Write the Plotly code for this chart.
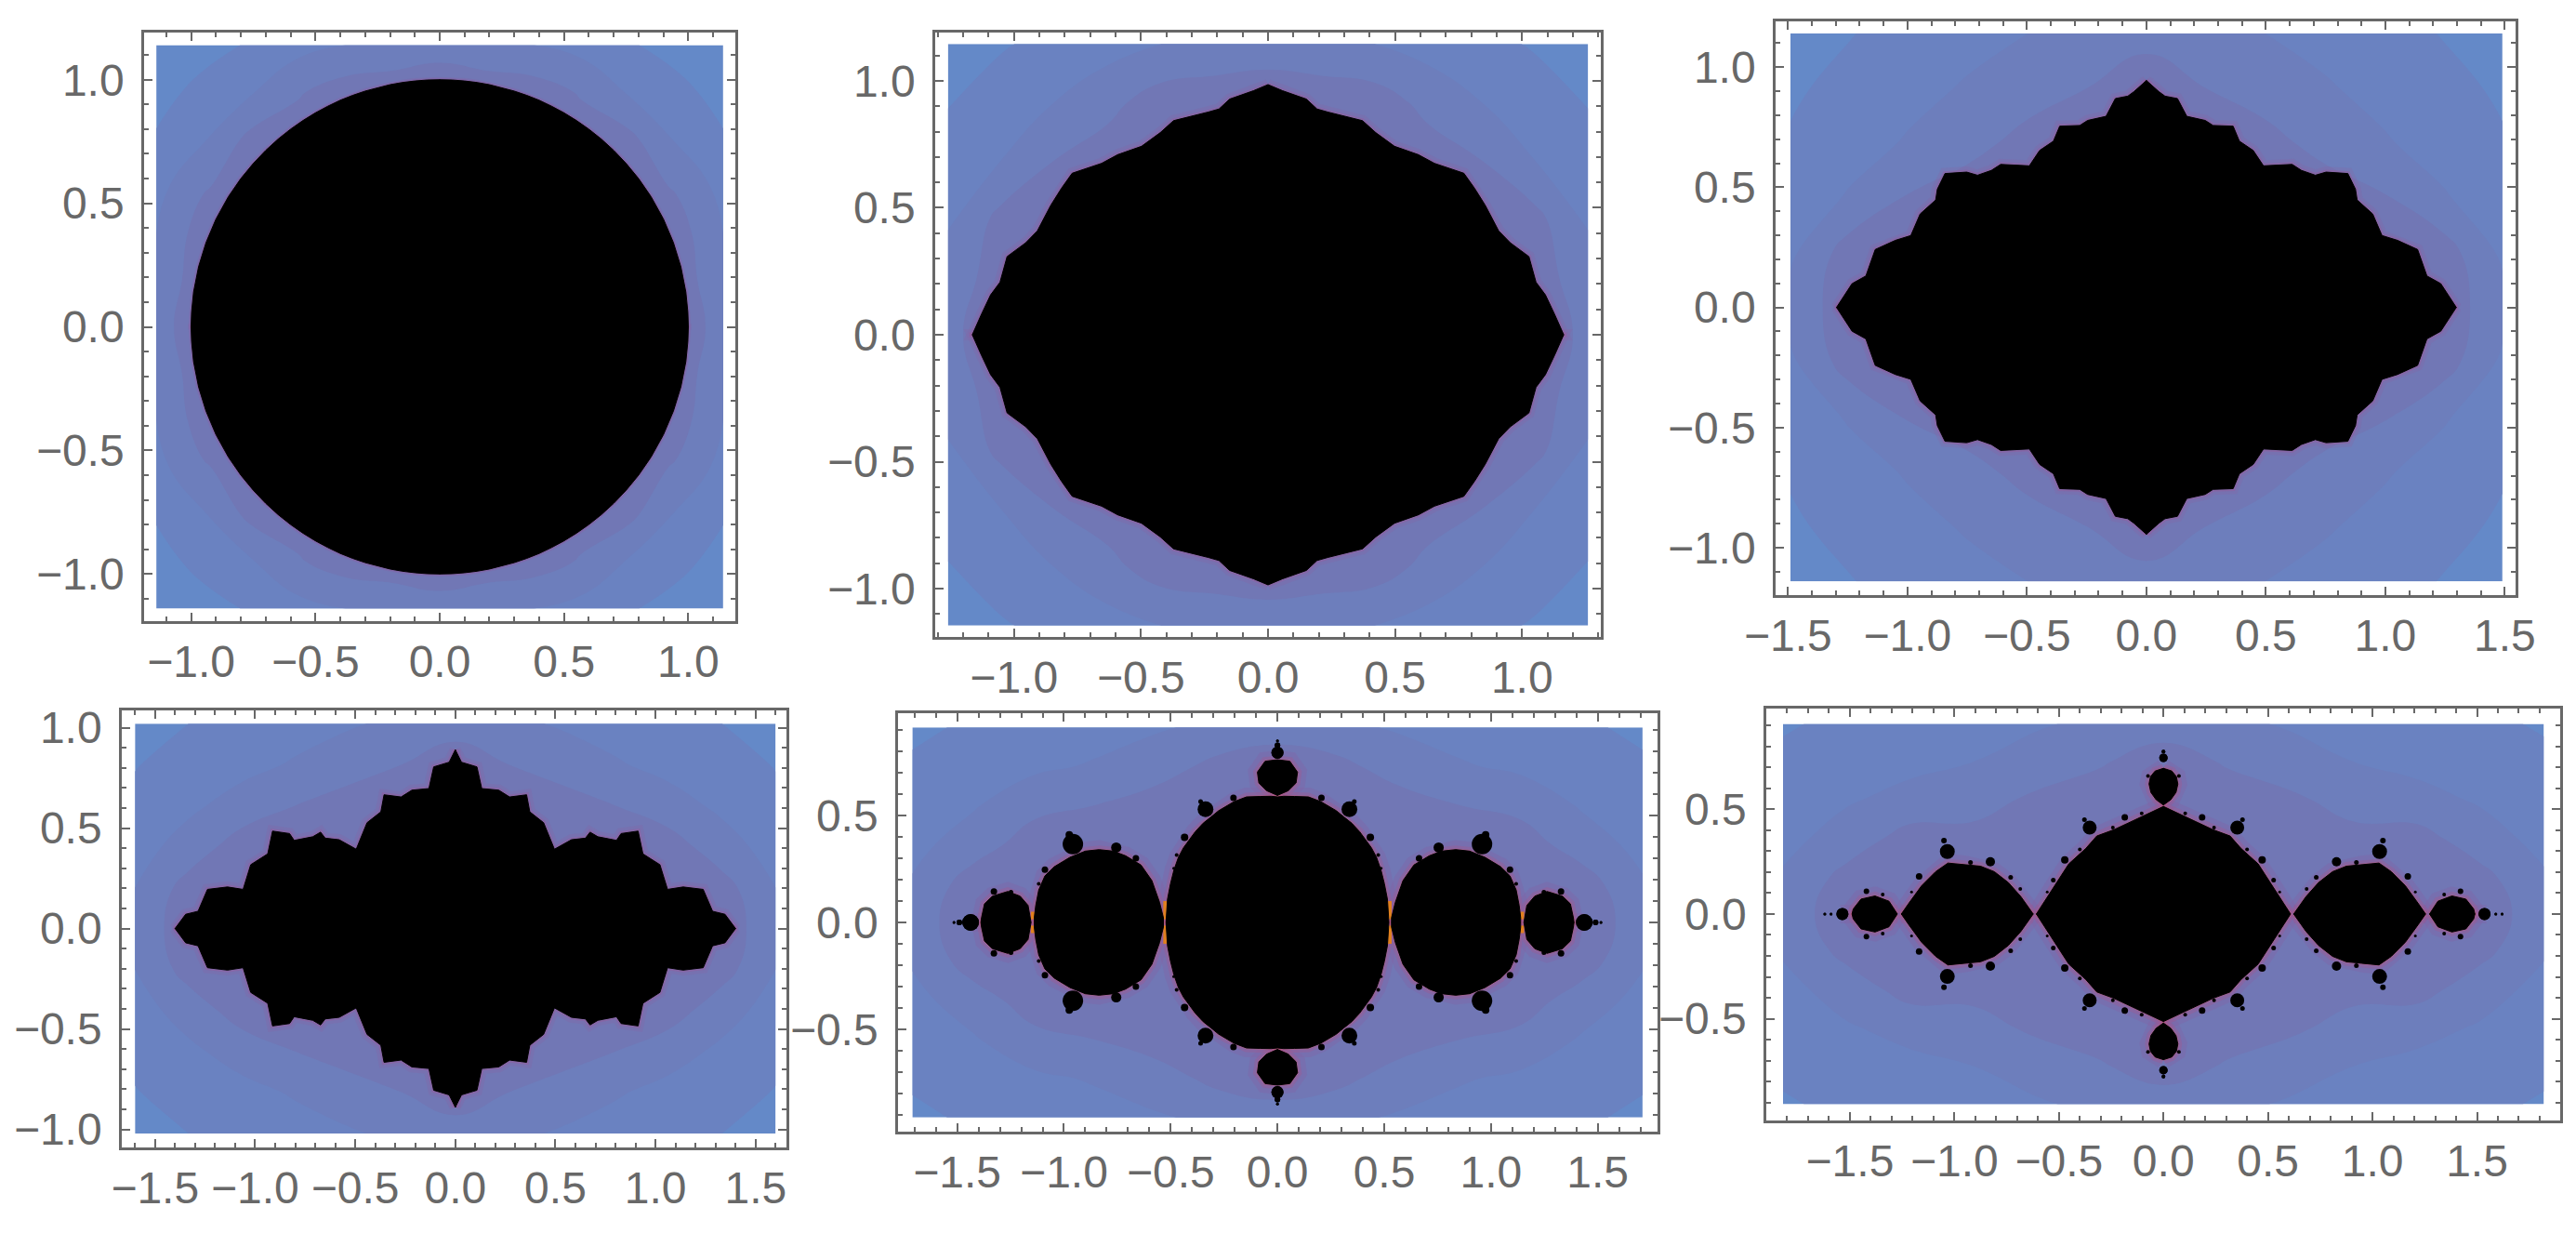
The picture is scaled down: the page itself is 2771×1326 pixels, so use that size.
import plotly.graph_objects as go

W, H = 2771, 1326
BAND_COLORS = ["#6489C8", "#6A82C1", "#6D7EBC", "#7177B5"]
AXIS_COLOR = "#686868"
FONT = "Liberation Sans"

# ---------- tick values / labels ----------
TICKS_10 = [-1.0, -0.5, 0.0, 0.5, 1.0]
TICKS_10_TEXT = ["−1.0", "−0.5", "0.0", "0.5", "1.0"]
TICKS_15 = [-1.5, -1.0, -0.5, 0.0, 0.5, 1.0, 1.5]
TICKS_15_TEXT = ["−1.5", "−1.0", "−0.5", "0.0", "0.5", "1.0", "1.5"]
TICKS_05 = [-0.5, 0.0, 0.5]
TICKS_05_TEXT = ["−0.5", "0.0", "0.5"]

# ---------- background level grids (upper-right quadrant) ----------
P1_GX = [0, 0.19, 0.38, 0.57, 0.76, 0.95, 1.14]
P1_GY = [0, 0.19, 0.38, 0.57, 0.76, 0.95, 1.14]
P1_GZ = [[3.5, 3.5, 3.5, 3.5, 3.5, 3.5, 2.7],
         [3.5, 3.5, 3.5, 3.5, 3.5, 3.5, 2.4],
         [3.5, 3.5, 3.5, 3.5, 3.5, 3.5, 2.0],
         [3.5, 3.5, 3.5, 3.5, 3.5, 2.9, 1.65],
         [3.5, 3.5, 3.5, 3.5, 3.3, 1.9, 1.1],
         [3.5, 3.5, 3.5, 2.9, 1.9, 1.3, 0.65],
         [2.7, 2.4, 2.0, 1.65, 1.1, 0.65, 0.2]]

P2_GX = [0, 0.21, 0.42, 0.63, 0.84, 1.05, 1.26]
P2_GY = [0, 0.229, 0.458, 0.687, 0.916, 1.145]
P2_GZ = [[3.5, 3.5, 3.5, 3.5, 3.5, 3.5, 2.8],
         [3.5, 3.5, 3.5, 3.5, 3.5, 3.5, 2.4],
         [3.5, 3.5, 3.5, 3.5, 3.5, 3.3, 1.9],
         [3.5, 3.5, 3.5, 3.5, 3.0, 2.0, 1.4],
         [3.5, 3.5, 3.5, 2.7, 2.0, 1.5, 0.95],
         [2.6, 2.4, 2.0, 1.6, 1.3, 0.9, 0.4]]

P3_GX = [0, 0.248, 0.497, 0.745, 0.993, 1.242, 1.49]
P3_GY = [0, 0.228, 0.456, 0.684, 0.912, 1.14]
P3_GZ = [[3.5, 3.5, 3.5, 3.5, 3.5, 3.5, 2.4],
         [3.5, 3.5, 3.5, 3.5, 3.5, 3.5, 1.8],
         [3.5, 3.5, 3.5, 3.5, 3.1, 2.1, 1.4],
         [3.5, 3.5, 3.3, 2.7, 2.1, 1.6, 1.1],
         [3.5, 3.0, 2.6, 2.1, 1.7, 1.3, 0.85],
         [2.7, 2.4, 2.0, 1.7, 1.4, 0.95, 0.5]]

P4_GX = [0, 0.267, 0.533, 0.8, 1.067, 1.333, 1.6]
P4_GY = [0, 0.204, 0.408, 0.612, 0.816, 1.02]
P4_GZ = [[3.5, 3.5, 3.5, 3.5, 3.5, 3.5, 2.4],
         [3.5, 3.5, 3.5, 3.5, 3.5, 3.4, 2.0],
         [3.5, 3.5, 3.5, 3.5, 3.5, 2.4, 1.6],
         [3.5, 3.5, 3.5, 3.0, 2.4, 1.8, 1.25],
         [3.5, 3.0, 2.5, 2.1, 1.7, 1.4, 0.95],
         [2.6, 2.2, 1.9, 1.6, 1.3, 1.0, 0.6]]

P5_GX = [0, 0.285, 0.57, 0.855, 1.14, 1.425, 1.71]
P5_GY = [0, 0.183, 0.366, 0.549, 0.731, 0.914]
P5_GZ = [[3.5, 3.5, 3.5, 3.5, 3.5, 3.5, 2.6],
         [3.5, 3.5, 3.5, 3.5, 3.5, 3.5, 2.1],
         [3.5, 3.5, 3.5, 3.5, 3.5, 2.5, 1.7],
         [3.5, 3.5, 3.5, 3.0, 2.7, 1.9, 1.4],
         [3.5, 3.3, 2.5, 2.1, 1.8, 1.5, 1.15],
         [2.6, 2.2, 1.9, 1.6, 1.4, 1.15, 0.8]]

P6_GX = [0, 0.303, 0.607, 0.91, 1.213, 1.517, 1.82]
P6_GY = [0, 0.181, 0.363, 0.544, 0.726, 0.907]
P6_GZ = [[3.5, 3.5, 3.5, 3.5, 3.5, 3.5, 2.5],
         [3.5, 3.5, 3.5, 3.5, 3.5, 3.3, 2.1],
         [3.5, 3.5, 3.5, 3.3, 3.4, 2.4, 1.7],
         [3.5, 3.5, 3.2, 2.6, 2.3, 1.9, 1.4],
         [3.5, 2.9, 2.4, 2.0, 1.75, 1.5, 1.2],
         [2.5, 2.2, 1.9, 1.6, 1.4, 1.2, 0.9]]

# ---------- black outlines, one quadrant each ----------
P1_PIECES = [[(0, 1.0), (.05, .999), (.1, .995), (.15, .989), (.2, .98), (.25, .968), (.3, .954),
              (.35, .937), (.4, .917), (.45, .893), (.5, .866), (.55, .835), (.6, .8), (.65, .76),
              (.7, .714), (.75, .661), (.8, .6), (.85, .527), (.9, .436), (.94, .341), (.97, .243),
              (.99, .141), (.998, .06), (1.0, 0), (0, 0)]]

P2_PIECES = [[(0, .985), (.057, .961), (.151, .928), (.193, .889), (.235, .877), (.372, .843),
              (.424, .796), (.498, .742), (.592, .709), (.655, .675), (.771, .636), (.813, .577),
              (.855, .510), (.908, .409), (.954, .362), (1.027, .308), (1.055, .207), (1.092, .157),
              (1.128, .081), (1.164, 0), (0, 0)]]

P3_PIECES = [[(0, .944), (.052, .898), (.078, .879), (.130, .869), (.169, .795), (.246, .778),
              (.279, .757), (.363, .754), (.389, .692), (.447, .653), (.490, .589), (.610, .595),
              (.649, .570), (.707, .550), (.752, .563), (.843, .557), (.875, .492), (.882, .447),
              (.947, .389), (.986, .299), (1.051, .279), (1.135, .241), (1.174, .131), (1.232, .099),
              (1.297, 0), (0, 0)]]

P4_PIECES = [[(0, .890), (.031, .828), (.108, .805), (.132, .697), (.217, .689), (.271, .655),
              (.356, .666), (.372, .581), (.441, .527), (.495, .395), (.580, .442), (.650, .450),
              (.673, .480), (.712, .457), (.805, .439), (.828, .473), (.913, .485), (.937, .372),
              (1.022, .318), (1.06, .195), (1.138, .207), (1.238, .195), (1.285, .086), (1.347, .071),
              (1.40, 0), (0, 0)]]

P5_PIECES = [[(0, .588), (.029, .591), (.08, .59), (.145, .588), (.203, .566), (.24, .545), (.276, .523),
              (.31, .495), (.348, .465), (.385, .425), (.414, .385), (.44, .35), (.464, .305),
              (.485, .245), (.501, .181), (.515, .109), (.522, 0), (0, 0)],
             [(.534, 0), (.534, .022), (.552, .094), (.588, .196), (.639, .269), (.711, .312),
              (.769, .334), (.835, .341), (.90, .334), (.972, .305), (1.045, .261), (1.089, .218),
              (1.118, .152), (1.132, .08), (1.139, .022), (1.139, 0)],
             [(1.154, 0), (1.168, .08), (1.205, .123), (1.263, .145), (1.335, .123), (1.372, .087),
              (1.386, .022), (1.389, 0)],
             [(0, .762), (.058, .755), (.094, .704), (.087, .653), (.051, .617), (.022, .605), (0, .595)]]
P5_BUD_X = [0, 0, 0, .337, .36, .206, .435, .472, .486, .958, .975, .755, .663, 1.089, 1.118, 1.328, 1.248, 1.437, 1.49, 1.515]
P5_BUD_Y = [.795, .83, .85, .53, .566, .584, .399, .316, .254, .367, .411, .351, .30, .247, .181, .145, .142, 0, 0, 0]
P5_BUD_S = [13, 6, 3, 17, 5, 7, 8, 4, 3, 22, 8, 11, 7, 7, 4, 7, 5, 18, 6, 3]
P5_PINCH_X = [.526, .526, None, 1.146, 1.146]
P5_PINCH_Y = [.015, .10, None, .015, .05]

P6_PIECES = [[(0, .513), (.089, .471), (.163, .439), (.237, .402), (.319, .372), (.371, .313),
              (.453, .239), (.512, .150), (.564, .068), (.608, 0), (0, 0)],
             [(.623, 0), (.682, .083), (.742, .15), (.809, .202), (.875, .228), (.95, .234),
              (1.031, .243), (1.09, .202), (1.157, .135), (1.217, .053), (1.254, 0)],
             [(1.273, 0), (1.313, .061), (1.38, .086), (1.447, .071), (1.484, .024), (1.49, 0)],
             [(0, .695), (.04, .682), (.062, .655), (.069, .62), (.06, .58), (.035, .545), (0, .52)]]
P6_BUD_X = [0, 0, .074, .353, .378, .185, .104, .242, .40, .472, .527, .556, 1.034, 1.05, .828, .923, .731, .685, 1.169, 1.205, 1.421, 1.343, 1.536, 1.59, 1.62]
P6_BUD_Y = [.745, .775, .658, .412, .45, .461, .48, .412, .308, .258, .162, .105, .298, .35, .249, .246, .175, .12, .179, .105, .108, .093, 0, 0, 0]
P6_BUD_S = [9, 4, 4, 15, 5, 7, 4, 4, 4, 8, 5, 3, 16, 6, 10, 5, 5, 4, 7, 3, 6, 4, 13, 3, 3]

GLOW_THIN = [(6, "rgba(135,100,165,0.35)"), (3, "rgba(140,90,155,0.5)")]
GLOW_MID = [(12, "rgba(135,100,165,0.28)"), (5, "rgba(150,90,155,0.45)")]
GLOW_WIDE = [(20, "rgba(135,95,160,0.28)"), (9, "rgba(165,85,140,0.35)"), (3, "rgba(205,85,105,0.3)")]

PANELS = [
    dict(frame=(155, 791, 35, 668), xr=(-1.189, 1.189), yr=(-1.191, 1.191), gx=P1_GX, gy=P1_GY, gz=P1_GZ,
         pieces=P1_PIECES, xt=(TICKS_10, TICKS_10_TEXT), yt=(TICKS_10, TICKS_10_TEXT), glow=GLOW_THIN),
    dict(frame=(1006, 1722, 35, 685), xr=(-1.31, 1.31), yr=(-1.19, 1.19), gx=P2_GX, gy=P2_GY, gz=P2_GZ,
         pieces=P2_PIECES, xt=(TICKS_10, TICKS_10_TEXT), yt=(TICKS_10, TICKS_10_TEXT), glow=GLOW_MID),
    dict(frame=(1910, 2706, 23, 640), xr=(-1.552, 1.545), yr=(-1.197, 1.19), gx=P3_GX, gy=P3_GY, gz=P3_GZ,
         pieces=P3_PIECES, xt=(TICKS_15, TICKS_15_TEXT), yt=(TICKS_10, TICKS_10_TEXT), glow=GLOW_MID),
    dict(frame=(131, 846, 764, 1234), xr=(-1.666, 1.654), yr=(-1.09, 1.086), gx=P4_GX, gy=P4_GY, gz=P4_GZ,
         pieces=P4_PIECES, xt=(TICKS_15, TICKS_15_TEXT), yt=(TICKS_10, TICKS_10_TEXT), glow=GLOW_MID),
    dict(frame=(966, 1783, 767, 1217), xr=(-1.777, 1.78), yr=(-0.98, 0.98), gx=P5_GX, gy=P5_GY, gz=P5_GZ,
         pieces=P5_PIECES, xt=(TICKS_15, TICKS_15_TEXT), yt=(TICKS_05, TICKS_05_TEXT), glow=GLOW_WIDE,
         buds=(P5_BUD_X, P5_BUD_Y, P5_BUD_S), pinch=(P5_PINCH_X, P5_PINCH_Y)),
    dict(frame=(1900, 2754, 762, 1205), xr=(-1.9, 1.898), yr=(-0.985, 0.98), gx=P6_GX, gy=P6_GY, gz=P6_GZ,
         pieces=P6_PIECES, xt=(TICKS_15, TICKS_15_TEXT), yt=(TICKS_05, TICKS_05_TEXT), glow=GLOW_WIDE,
         buds=(P6_BUD_X, P6_BUD_Y, P6_BUD_S)),
]


def full_axis(vals):
    return [-v for v in reversed(vals[1:])] + list(vals)


def full_grid(z):
    rows = [list(reversed(r[1:])) + list(r) for r in z]
    return list(reversed(rows[1:])) + rows


def reflect_polys(pieces):
    xs, ys = [], []
    for piece in pieces:
        for sx, sy in ((1, 1), (-1, 1), (1, -1), (-1, -1)):
            xs += [sx * p[0] for p in piece] + [sx * piece[0][0], None]
            ys += [sy * p[1] for p in piece] + [sy * piece[0][1], None]
    return xs, ys


def reflect_points(x, y, s):
    ox, oy, os_ = [], [], []
    for a, b, c in zip(x, y, s):
        for sx, sy in ((1, 1), (-1, 1), (1, -1), (-1, -1)):
            ox.append(sx * a); oy.append(sy * b); os_.append(c)
    return ox, oy, os_


def reflect_line(x, y):
    ox, oy = [], []
    for sx, sy in ((1, 1), (-1, 1), (1, -1), (-1, -1)):
        ox += [None if v is None else sx * v for v in x] + [None]
        oy += [None if v is None else sy * v for v in y] + [None]
    return ox, oy


fig = go.Figure()
layout = {}
colorscale = [[i / 3, c] for i, c in enumerate(BAND_COLORS)]
for i, p in enumerate(PANELS, start=1):
    xa, ya = f"x{i}", f"y{i}"
    fig.add_trace(go.Contour(x=full_axis(p["gx"]), y=full_axis(p["gy"]), z=full_grid(p["gz"]),
                             xaxis=xa, yaxis=ya, colorscale=colorscale, zmin=0.5, zmax=3.5,
                             autocontour=False,
                             contours=dict(start=1, end=3, size=1, coloring="fill", showlines=False),
                             line=dict(width=0, smoothing=1.3), showscale=False, hoverinfo="skip"))
    px, py = reflect_polys(p["pieces"])
    for width, color in p["glow"]:
        fig.add_trace(go.Scatter(x=px, y=py, xaxis=xa, yaxis=ya, mode="lines",
                                 line=dict(color=color, width=width), hoverinfo="skip", showlegend=False))
    if "pinch" in p:
        lx, ly = reflect_line(*p["pinch"])
        fig.add_trace(go.Scatter(x=lx, y=ly, xaxis=xa, yaxis=ya, mode="lines",
                                 line=dict(color="#E0801E", width=4), hoverinfo="skip", showlegend=False))
    fig.add_trace(go.Scatter(x=px, y=py, xaxis=xa, yaxis=ya, mode="lines", fill="toself",
                             fillcolor="#000000", line=dict(color="#000000", width=1),
                             hoverinfo="skip", showlegend=False))
    if "buds" in p:
        bx, by, bs = reflect_points(*p["buds"])
        fig.add_trace(go.Scatter(x=bx, y=by, xaxis=xa, yaxis=ya, mode="markers",
                                 marker=dict(color="#000000", size=bs, opacity=1, line=dict(width=0)),
                                 hoverinfo="skip", showlegend=False))
    x0, x1, y0, y1 = p["frame"]
    common = dict(showgrid=False, zeroline=False, showline=True, linecolor=AXIS_COLOR, linewidth=2.5,
                  mirror="allticks", ticks="inside", ticklen=9, tickwidth=2, tickcolor=AXIS_COLOR,
                  tickfont=dict(family=FONT, size=48, color=AXIS_COLOR), tickmode="array", automargin=False,
                  minor=dict(ticks="inside", ticklen=5, tickwidth=1.5, tickcolor=AXIS_COLOR, dtick=0.1, tick0=0))
    layout["xaxis" + str(i)] = dict(common, domain=[x0 / W, x1 / W], range=list(p["xr"]), anchor=ya,
                                    tickvals=p["xt"][0], ticktext=p["xt"][1], ticklabelstandoff=0, tickangle=0)
    layout["yaxis" + str(i)] = dict(common, domain=[1 - y1 / H, 1 - y0 / H], range=list(p["yr"]), anchor=xa,
                                    tickvals=p["yt"][0], ticktext=p["yt"][1], ticklabelstandoff=9, tickangle=0)

fig.update_layout(width=W, height=H, margin=dict(l=0, r=0, t=0, b=0, pad=0, autoexpand=False), autosize=False,
                  paper_bgcolor="white", plot_bgcolor="white", showlegend=False, **layout)
fig.write_html("out.html", config={"displayModeBar": False},
               post_script="document.body.style.margin='0';")
